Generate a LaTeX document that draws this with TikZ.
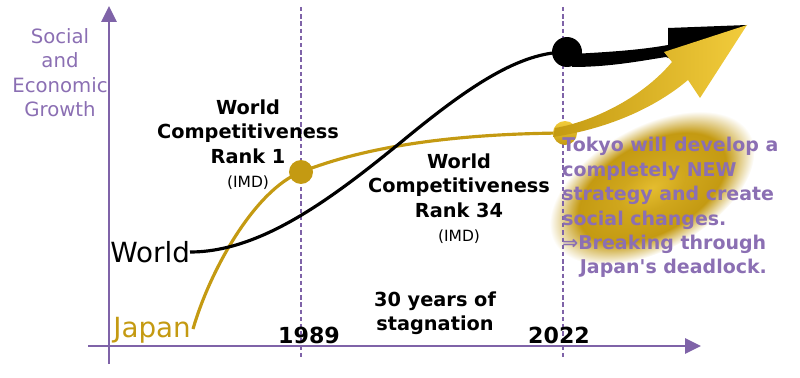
\documentclass[tikz,border=0pt]{standalone}
\usepackage{fontspec}
\setmainfont{DejaVu Sans}
\usetikzlibrary{arrows.meta}
\definecolor{axpurple}{HTML}{7F63A8}
\definecolor{txpurple}{HTML}{8B6FB3}
\definecolor{jpgold}{HTML}{C49A12}
\definecolor{ltgold}{HTML}{F2CC3C}
\pgfdeclareradialshading{glow}{\pgfpoint{0bp}{0bp}}{color(0bp)=(ltgold!70!jpgold); color(8bp)=(ltgold!25!jpgold); color(18bp)=(jpgold); color(25bp)=(white); color(50bp)=(white)}

\begin{document}
\begin{tikzpicture}[x=0.02cm,y=-0.02cm,
    axis/.style={axpurple,line width=1.4pt,-{Triangle[length=9pt,width=8.5pt]}},
    yearline/.style={axpurple,line width=0.7pt,dash pattern=on 2.5pt off 1.6pt},
    trend/.style={line width=1.8pt},
    dot/.style={circle,inner sep=0pt,minimum size=0.48cm},
    heading/.style={font=\bfseries\fontsize{11}{14.2}\selectfont,align=center,inner sep=0pt},
    year/.style={font=\bfseries\fontsize{12.6}{15}\selectfont,anchor=base,inner sep=0pt},
    country/.style={font=\fontsize{15.8}{18}\selectfont,anchor=base west,inner sep=0pt}]
\useasboundingbox (0,0) rectangle (800,378);

% glow behind the message
\begin{scope}[transform canvas={rotate around={29:(652,188)}}]
\shade[shading=glow] (652,188) ellipse [x radius=112,y radius=62];
\end{scope}

\draw[yearline] (301,7) -- (301,359);
\draw[yearline] (563,7) -- (563,359);
\draw[axis] (109,364) -- (109,6);
\draw[axis] (88,346) -- (701,346);

\coordinate (jstart) at (193,329);
\coordinate (wstart) at (190,252);
\coordinate (j89) at (301,172);
\coordinate (j22) at (565,133);
\coordinate (w22) at (567,52);

\draw[trend,jpgold] (jstart) .. controls (210,270) and (255,190) .. (j89)
  .. controls (345,155) and (420,134) .. (j22);
\draw[trend] (wstart) .. controls (260,252) and (330,200) .. (400,143)
  .. controls (470,85) and (520,52) .. (w22);

\node[dot,fill=jpgold] (d89) at (j89) {};
\node[dot,fill=black,minimum size=0.6cm] (dw22) at (w22) {};
\fill (572,54) .. controls (610,52) and (640,50) .. (668,45) -- (668,28) -- (747,25)
  -- (678,62) -- (666,57) .. controls (640,61) and (610,67) .. (572,67) -- cycle;
\node[dot,top color=ltgold,bottom color=jpgold] (d22) at (j22) {};
\shade[left color=jpgold,right color=ltgold] (555,128) .. controls (590,122) and (640,100) .. (672,62)
  -- (664,52) -- (747,25) -- (700,98) -- (688,80) .. controls (650,112) and (600,130) .. (553,137) -- cycle;

% labels
\node[txpurple,align=center,inner sep=0pt,anchor=north,font=\fontsize{11.2}{13.9}\selectfont] (ylabel) at (60,28) {Social\\and\\Economic\\Growth};
\node[heading,anchor=north] (rank1) at (248,99) {World\\Competitiveness\\Rank 1\\[-1pt]{\mdseries\fontsize{8.8}{10}\selectfont (IMD)}};
\node[heading,anchor=north] (rank34) at (459,153) {World\\Competitiveness\\Rank 34\\[-1pt]{\mdseries\fontsize{8.8}{10}\selectfont (IMD)}};
\node[heading,anchor=north] (stag) at (435,291) {30 years of\\stagnation};
\node[year] (y89) at (309,343) {1989};
\node[year] (y22) at (559,343) {2022};
\node[country] (wlabel) at (110,262) {World};
\node[country,jpgold] (jlabel) at (113,337) {Japan};
\node[txpurple,font=\bfseries\fontsize{10.8}{13.9}\selectfont,align=left,anchor=north west,inner sep=0pt] (msg) at (562,137)
  {Tokyo will develop a\\completely NEW\\strategy and create\\social changes.\\⇒Breaking through\\\hspace*{10pt}Japan\textquotesingle s deadlock.};
\end{tikzpicture}
\end{document}
